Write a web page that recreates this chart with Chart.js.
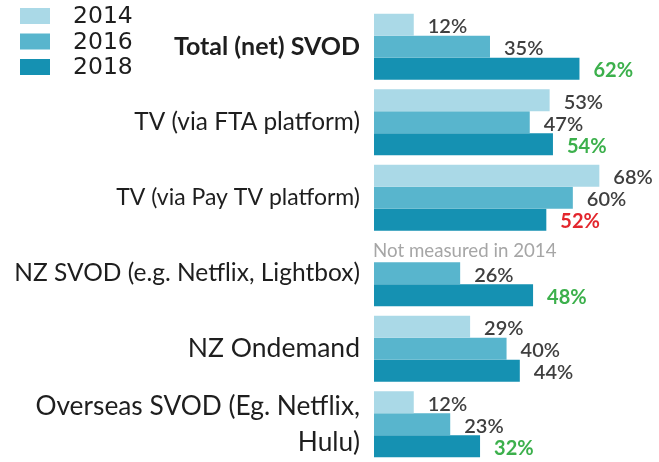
<!DOCTYPE html>
<html>
<head>
<meta charset="utf-8">
<script src="https://cdn.jsdelivr.net/npm/chart.js@4/dist/chart.umd.min.js"></script>
<style>
  html, body { margin: 0; padding: 0; background: #ffffff; }
  #wrap { position: relative; width: 659px; height: 462px; }
</style>
</head>
<body>
<div id="wrap"><canvas id="c" width="659" height="462"></canvas></div>
<script>
// ---- data ----
const categories = [
  'Total (net) SVOD',
  'TV (via FTA platform)',
  'TV (via Pay TV platform)',
  'NZ SVOD (e.g. Netflix, Lightbox)',
  'NZ Ondemand',
  ['Overseas SVOD (Eg. Netflix,', 'Hulu)']
];
const seriesNames = ['2014', '2016', '2018'];
const values2014 = [12, 53, 68, null, 29, 12];
const values2016 = [35, 47, 60, 26, 40, 23];
const values2018 = [62, 54, 52, 48, 44, 32];
// change markers for the 2018 figures: 'up' = increase, 'down' = decrease, '' = neutral
const change2018 = ['up', 'up', 'down', 'up', '', 'up'];
const missingNote = 'Not measured in 2014';

// ---- styles ----
const seriesColors = ['#aad9e7', '#58b5cd', '#1591b2'];
const labelColor = { '': '#3f3f3f', up: '#3cb04c', down: '#e3262d' };
const FONT = "Lato, 'Open Sans', sans-serif";
const tickSizes = [25, 24.4, 23, 24.5, 26.5, 26.3];

const valueLabels = {
  id: 'valueLabels',
  afterDatasetsDraw(chart) {
    const ctx = chart.ctx;
    ctx.save();
    ctx.textBaseline = 'middle';
    ctx.textAlign = 'left';
    chart.data.datasets.forEach((ds, di) => {
      const meta = chart.getDatasetMeta(di);
      meta.data.forEach((el, i) => {
        const v = ds.data[i];
        if (v === null || v === undefined) return;
        let col = labelColor[''];
        let weight = '600';
        if (di === 2) {
          col = labelColor[change2018[i]];
          if (change2018[i]) weight = 'bold';
        }
        ctx.font = weight + ' 20px ' + FONT;
        ctx.fillStyle = col;
        ctx.fillText(v + '%', el.x + 14, el.y + 2);
      });
    });
    // note for missing 2014 values
    const m1 = chart.getDatasetMeta(1);
    values2014.forEach((v, i) => {
      if (v !== null) return;
      const ref = m1.data[i];
      const y = ref.y - ref.height;
      ctx.font = '18.7px ' + FONT;
      ctx.fillStyle = '#a6a6a6';
      ctx.fillText(missingNote, chart.chartArea.left - 1, y);
    });
    ctx.restore();
  }
};

const customLegend = {
  id: 'customLegend',
  afterDraw(chart) {
    const ctx = chart.ctx;
    ctx.save();
    ctx.textBaseline = 'middle';
    ctx.textAlign = 'left';
    ctx.font = "23.5px 'DejaVu Sans', sans-serif";
    chart.data.datasets.forEach((ds, i) => {
      const y = 8 + i * 25.5;
      ctx.fillStyle = ds.backgroundColor;
      ctx.fillRect(20, y, 30, 16);
      ctx.fillStyle = '#1e1e1e';
      ctx.fillText(ds.label, 73, y + 9);
    });
    ctx.restore();
  }
};

new Chart(document.getElementById('c'), {
  type: 'bar',
  data: {
    labels: categories,
    datasets: [
      { label: seriesNames[0], data: values2014, backgroundColor: seriesColors[0] },
      { label: seriesNames[1], data: values2016, backgroundColor: seriesColors[1] },
      { label: seriesNames[2], data: values2018, backgroundColor: seriesColors[2] }
    ]
  },
  options: {
    indexAxis: 'y',
    responsive: false,
    animation: false,
    layout: { padding: { top: 9, bottom: 0, left: 0, right: 0 } },
    datasets: { bar: { categoryPercentage: 0.875, barPercentage: 1.0, borderWidth: 0 } },
    plugins: { legend: { display: false }, tooltip: { enabled: false } },
    scales: {
      x: { display: false, min: 0, max: 86 },
      y: {
        grid: { display: false, drawTicks: false },
        border: { display: false },
        afterFit(scale) {
          scale.width = 374;
          scale.paddingTop = 0;
          scale.paddingBottom = 0;
        },
        ticks: {
          autoSkip: false,
          padding: 14,
          color: '#1e1e1e',
          font: (c) => ({
            family: FONT,
            size: tickSizes[c.index] || 24,
            weight: c.index === 0 ? 'bold' : 'normal',
            lineHeight: 1.38
          })
        }
      }
    }
  },
  plugins: [valueLabels, customLegend]
});
</script>
</body>
</html>
